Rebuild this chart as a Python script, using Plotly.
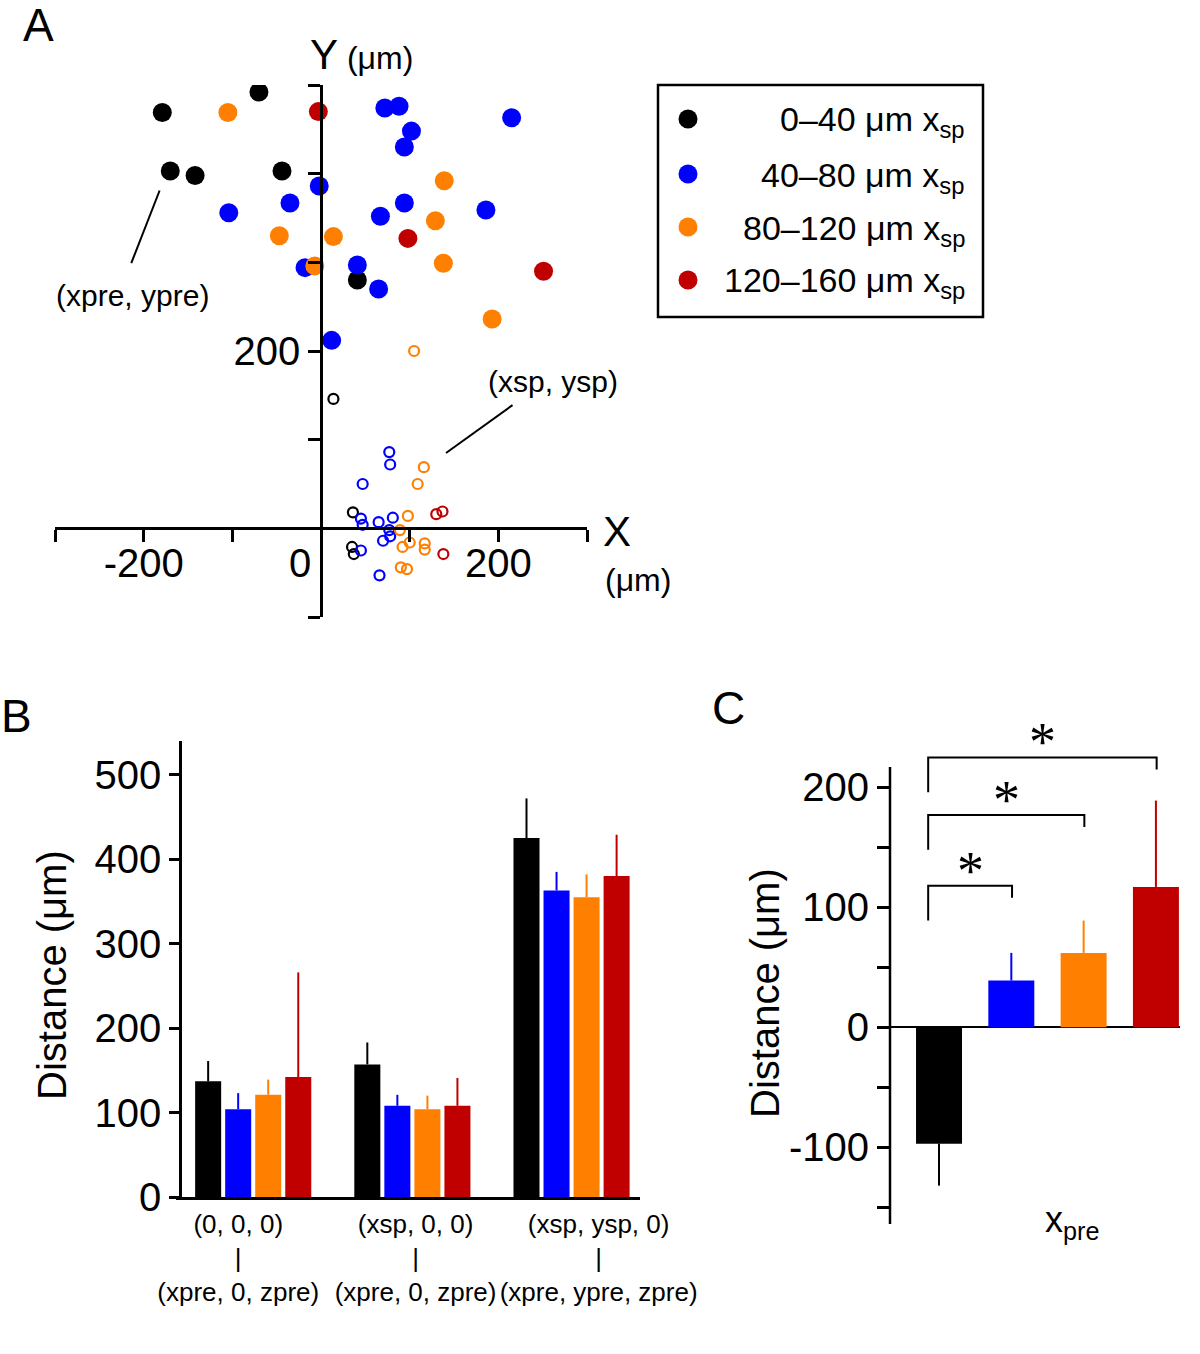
import plotly.graph_objects as go

W, H = 1200, 1354
FONT = "Liberation Sans, Arial, sans-serif"

# ---- panel A data: presynaptic (filled) and spine (open) positions, um ----
colors = ["#000000", "#0000FF", "#FF8000", "#C00000"]
bin_labels = ["0–40 μm x<sub>sp</sub>", "40–80 μm x<sub>sp</sub>",
              "80–120 μm x<sub>sp</sub>", "120–160 μm x<sub>sp</sub>"]

pre_x_black = [-179, -70, -170, -142, -44, 41]
pre_y_black = [469, 492, 403, 398, 403, 280]
pre_x_blue = [72, 88, 102, 94, 215, -2, -35, -104, 67, 94, 186, -18, 41, 65, 12]
pre_y_blue = [474, 476, 448, 430, 463, 386, 367, 356, 352, 367, 359, 294, 297, 270, 212]
pre_x_orange = [-105, 139, 129, -47, 14, -7, 138, 193]
pre_y_orange = [469, 392, 347, 330, 329, 296, 299, 236]
pre_x_red = [-3, 98, 251]
pre_y_red = [470, 327, 290]

sp_x_black = [14, 36, 35, 37]
sp_y_black = [146, 18, -21, -29]
sp_x_blue = [77, 78, 47, 45, 47, 65, 81, 77, 78, 70, 45, 66]
sp_y_blue = [86, 72, 50, 11, 4, 7, 12, -2, -9, -14, -25, -53]
sp_x_orange = [105, 116, 109, 98, 89, 100, 92, 117, 117, 90, 97]
sp_y_orange = [200, 69, 50, 14, -2, -16, -21, -17, -24, -44, -46]
sp_x_red = [130, 137, 138]
sp_y_red = [16, 19, -29]

# ---- panel B data: mean distance and SEM per reference frame ----
b_groups = ["(0, 0, 0)<br>|<br>(xpre, 0, zpre)",
            "(xsp, 0, 0)<br>|<br>(xpre, 0, zpre)",
            "(xsp, ysp, 0)<br>|<br>(xpre, ypre, zpre)"]
b_black = [137, 157, 425]
b_blue = [104, 108, 363]
b_orange = [121, 104, 355]
b_red = [142, 108, 380]
b_black_sem = [24, 26, 47]
b_blue_sem = [19, 13, 22]
b_orange_sem = [18, 16, 27]
b_red_sem = [124, 33, 49]

# ---- panel C data: x_pre distance per bin ----
c_vals = [-97, 39, 62, 117]
c_sem = [35, 23, 27, 72]
sig_pairs = [(0, 1), (0, 2), (0, 3)]
sig_heights = [118, 177, 225]


def px(x):
    return x / W


def py(y):
    return 1 - y / H


fig = go.Figure()

# ---------------- panel A ----------------
pre_sets = [(pre_x_black, pre_y_black), (pre_x_blue, pre_y_blue),
            (pre_x_orange, pre_y_orange), (pre_x_red, pre_y_red)]
sp_sets = [(sp_x_black, sp_y_black), (sp_x_blue, sp_y_blue),
           (sp_x_orange, sp_y_orange), (sp_x_red, sp_y_red)]
for (xs, ys), col in zip(pre_sets, colors):
    fig.add_trace(go.Scatter(x=xs, y=ys, mode="markers", xaxis="x", yaxis="y",
                             marker=dict(size=19, color=col), showlegend=False))
for (xs, ys), col in zip(sp_sets, colors):
    fig.add_trace(go.Scatter(x=xs, y=ys, mode="markers", xaxis="x", yaxis="y",
                             marker=dict(size=10, symbol="circle-open", color=col,
                                         line=dict(width=2.2, color=col)),
                             showlegend=False))

ax_rng = [-300, 300]
ay_rng = [-100, 500]
ax_dom = [px(55), px(587)]
ay_dom = [py(617), py(85)]
# axes cross at the origin
x_at_0 = ax_dom[0] + (0 - ax_rng[0]) / (ax_rng[1] - ax_rng[0]) * (ax_dom[1] - ax_dom[0])
y_at_0 = ay_dom[0] + (0 - ay_rng[0]) / (ay_rng[1] - ay_rng[0]) * (ay_dom[1] - ay_dom[0])

axis_style = dict(showline=True, linecolor="black", linewidth=2.5, ticks="outside",
                  tickcolor="black", tickwidth=2.5, showgrid=False, zeroline=False,
                  automargin=False,
                  tickfont=dict(size=40, color="black", family=FONT))

# ---------------- panel B ----------------
b_vals = [b_black, b_blue, b_orange, b_red]
b_sems = [b_black_sem, b_blue_sem, b_orange_sem, b_red_sem]
bw = 0.1635
pitch = 0.1887
start = -(3 * pitch + bw) / 2
for i, (vals, sems, col) in enumerate(zip(b_vals, b_sems, colors)):
    fig.add_trace(go.Bar(
        x=list(range(len(b_groups))), y=vals, xaxis="x2", yaxis="y2",
        offset=start + i * pitch, width=bw, marker=dict(color=col, line=dict(width=0)),
        error_y=dict(type="data", array=sems, arrayminus=[0] * len(sems), symmetric=False,
                     color=col, thickness=2, width=0),
        showlegend=False))

# ---------------- panel C ----------------
for i, (v, s, col) in enumerate(zip(c_vals, c_sem, colors)):
    fig.add_trace(go.Bar(
        x=[i], y=[v], xaxis="x3", yaxis="y3", width=0.636,
        marker=dict(color=col, line=dict(width=0)),
        error_y=dict(type="data", array=[s if v > 0 else 0], arrayminus=[s if v < 0 else 0],
                     symmetric=False, color=col, thickness=2, width=0),
        showlegend=False))

shapes = []
annotations = []

# bracket lines for significance
for (a, b), h in zip(sig_pairs, sig_heights):
    xl = a - 0.15
    xr = b + 0.01
    shapes.append(dict(type="path", xref="x3", yref="y3",
                       path=f"M {xl},{h - 29} L {xl},{h} L {xr},{h} L {xr},{h - 10}",
                       line=dict(color="black", width=2)))
    annotations.append(dict(x=(xl + xr) / 2, y=h, xref="x3", yref="y3", text="*",
                            showarrow=False, xanchor="center", yanchor="middle", yshift=15,
                            font=dict(size=54, color="black",
                                      family="Liberation Serif, Times New Roman, serif")))

# manual y axis line for panel C (range extended above for brackets)
shapes.append(dict(type="line", xref="paper", yref="y3", x0=px(890), x1=px(890),
                   y0=-164, y1=217, line=dict(color="black", width=2.5)))

# pointer lines in panel A
shapes.append(dict(type="line", xref="x", yref="y", x0=-182, y0=381, x1=-214, y1=299,
                   line=dict(color="black", width=2)))
shapes.append(dict(type="line", xref="x", yref="y", x0=216, y0=139, x1=141, y1=85,
                   line=dict(color="black", width=2)))

# legend box for panel A
shapes.append(dict(type="rect", xref="paper", yref="paper", x0=px(658), x1=px(983),
                   y0=py(317), y1=py(85), line=dict(color="black", width=2.5)))
rows = [119, 174, 227, 280]
for r, col, lab in zip(rows, colors, bin_labels):
    shapes.append(dict(type="circle", xref="paper", yref="paper",
                       x0=px(688 - 9.5), x1=px(688 + 9.5), y0=py(r + 9.5), y1=py(r - 9.5),
                       fillcolor=col, line=dict(width=0)))
    annotations.append(dict(x=px(967), y=py(r + 3), xref="paper", yref="paper", text=lab,
                            showarrow=False, xanchor="right", yanchor="middle",
                            font=dict(size=34, color="black", family=FONT)))


def txt(x, y, s, size, **kw):
    d = dict(x=px(x), y=py(y), xref="paper", yref="paper", text=s, showarrow=False,
             xanchor="center", yanchor="middle",
             font=dict(size=size, color="black", family=FONT))
    d.update(kw)
    annotations.append(d)


txt(38, 25, "A", 46)
txt(16, 716, "B", 46)
txt(728, 708, "C", 46)
txt(361, 55, "Y<span style='font-size:32px'> (μm)</span>", 42)
txt(617, 532, "X", 42)
txt(638, 580, "(μm)", 32)
txt(300, 563, "0", 40)
txt(132, 295, "(xpre, ypre)", 30)
txt(553, 381, "(xsp, ysp)", 30)
txt(52, 975, "Distance (μm)", 40, textangle=-90)
txt(765, 993, "Distance (μm)", 40, textangle=-90)
txt(1072, 1222, "x<sub>pre</sub>", 36)

# group label positions under panel B (evenly spaced, not exactly under bar groups)
b_label_pos = [-0.094, 1.02, 2.17]

fig.update_layout(
    width=W, height=H, margin=dict(l=0, r=0, t=0, b=0, autoexpand=False),
    paper_bgcolor="white", plot_bgcolor="rgba(0,0,0,0)",
    font=dict(family=FONT, color="black"),
    barmode="overlay", showlegend=False,
    xaxis=dict(domain=ax_dom, range=ax_rng, anchor="free", position=y_at_0,
               tickvals=[-300, -200, -100, 0, 100, 200, 300],
               ticktext=["", "-200", "", "", "", "200", ""], ticklen=12,
               ticklabelstandoff=-13, **axis_style),
    yaxis=dict(domain=ay_dom, range=ay_rng, anchor="free", position=x_at_0,
               tickvals=[-100, 0, 100, 200, 300, 400, 500],
               ticktext=["", "", "", "200", "", "", ""], ticklen=12, **axis_style),
    xaxis2=dict(domain=[px(176), px(640)], range=[-0.485, 2.43], anchor="y2",
                showline=True, linecolor="black", linewidth=2.5, ticks="",
                showgrid=False, zeroline=False, tickvals=b_label_pos, ticktext=b_groups,
                tickangle=0, automargin=False, ticklabelstandoff=2,
                tickfont=dict(size=26, color="black", family=FONT)),
    yaxis2=dict(domain=[py(1197), py(741)], range=[0, 540], anchor="free",
                position=px(180),
                tickvals=[0, 100, 200, 300, 400, 500], ticklen=10, **axis_style),
    xaxis3=dict(domain=[px(890), px(1180)], range=[-0.678, 3.333], anchor="y3",
                visible=False, automargin=False),
    yaxis3=dict(domain=[py(1224), py(749)], range=[-164, 232], anchor="x3",
                showline=False, ticks="outside", tickcolor="black", tickwidth=2.5,
                ticklen=12, showgrid=False, zeroline=True, zerolinecolor="black",
                zerolinewidth=2, automargin=False,
                tickvals=[-150, -100, -50, 0, 50, 100, 150, 200],
                ticktext=["", "-100", "", "0", "", "100", "", "200"],
                tickfont=dict(size=40, color="black", family=FONT)),
    shapes=shapes, annotations=annotations,
)

fig.write_html("out.html", config={"displayModeBar": False},
               post_script="document.body.style.margin='0';")
